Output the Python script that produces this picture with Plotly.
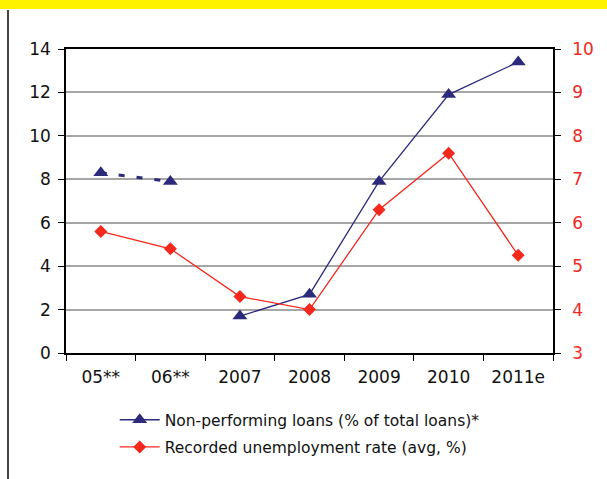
import plotly.graph_objects as go

categories = ["05**", "06**", "2007", "2008", "2009", "2010", "2011e"]
npl_est_cats = ["05**", "06**"]
npl_est = [8.3, 7.9]
npl_cats = ["2007", "2008", "2009", "2010", "2011e"]
npl = [1.7, 2.7, 7.9, 11.9, 13.4]
unemp = [5.8, 5.4, 4.3, 4.0, 6.3, 7.6, 5.25]

NAVY = "#2c2a7a"
RED = "#f5281e"
FONT = "DejaVu Sans"

fig = go.Figure()
fig.add_trace(go.Scatter(
    x=npl_est_cats, y=npl_est, mode="lines+markers", showlegend=False,
    line=dict(color=NAVY, width=3, dash="6px,12px"),
    marker=dict(symbol="triangle-up", size=13, color=NAVY),
))
fig.add_trace(go.Scatter(
    x=npl_cats, y=npl, mode="lines+markers", legendgroup="a",
    name="Non-performing loans (% of total loans)*",
    line=dict(color=NAVY, width=1.3),
    marker=dict(symbol="triangle-up", size=13, color=NAVY),
))
fig.add_trace(go.Scatter(
    x=categories, y=unemp, mode="lines+markers", yaxis="y2", legendgroup="b",
    name="Recorded unemployment rate (avg, %)",
    line=dict(color=RED, width=1.3),
    marker=dict(symbol="diamond", size=10, color=RED),
))

fig.update_layout(
    width=607, height=479,
    margin=dict(l=66, r=54, t=49, b=126),
    paper_bgcolor="white", plot_bgcolor="white",
    font=dict(family=FONT, size=17, color="#111"),
    xaxis=dict(
        type="category", categoryorder="array", categoryarray=categories,
        range=[-0.5, 6.5], showline=True, linecolor="black", linewidth=1.5,
        mirror=True, ticks="outside", tickson="boundaries", ticklen=6,
        tickcolor="black", showgrid=False, tickfont=dict(size=17),
        ticklabelstandoff=8,
    ),
    yaxis=dict(
        range=[0, 14], dtick=2, showline=True, linecolor="black", linewidth=1.5,
        ticks="outside", ticklen=6, tickcolor="black",
        showgrid=True, gridcolor="#a6a6a6", gridwidth=1.5, zeroline=False,
        tickfont=dict(size=17), ticklabelstandoff=4,
    ),
    yaxis2=dict(
        range=[3, 10], dtick=1, overlaying="y", side="right",
        showline=True, linecolor="black", linewidth=1.5,
        ticks="outside", ticklen=6, tickcolor="black", showgrid=False,
        zeroline=False, tickfont=dict(size=17, color=RED), ticklabelstandoff=8,
    ),
    legend=dict(
        x=0.10, xanchor="left", y=-0.165, yanchor="top",
        font=dict(size=15.5), bgcolor="rgba(0,0,0,0)", itemwidth=40,
        tracegroupgap=4, traceorder="grouped",
    ),
    shapes=[
        dict(type="rect", xref="paper", yref="paper",
             x0=-66/487, x1=(607-66)/487, y0=1 + (49-9)/304, y1=1 + 49/304,
             fillcolor="#fff200", line=dict(width=0), layer="below"),
        dict(type="line", xref="paper", yref="paper",
             x0=-58/487, x1=-58/487, y0=-126/304, y1=1 + (49-10)/304,
             line=dict(color="#444", width=2)),
    ],
)

fig.write_html("out.html", config={"displayModeBar": False},
               post_script="document.body.style.margin='0';")
